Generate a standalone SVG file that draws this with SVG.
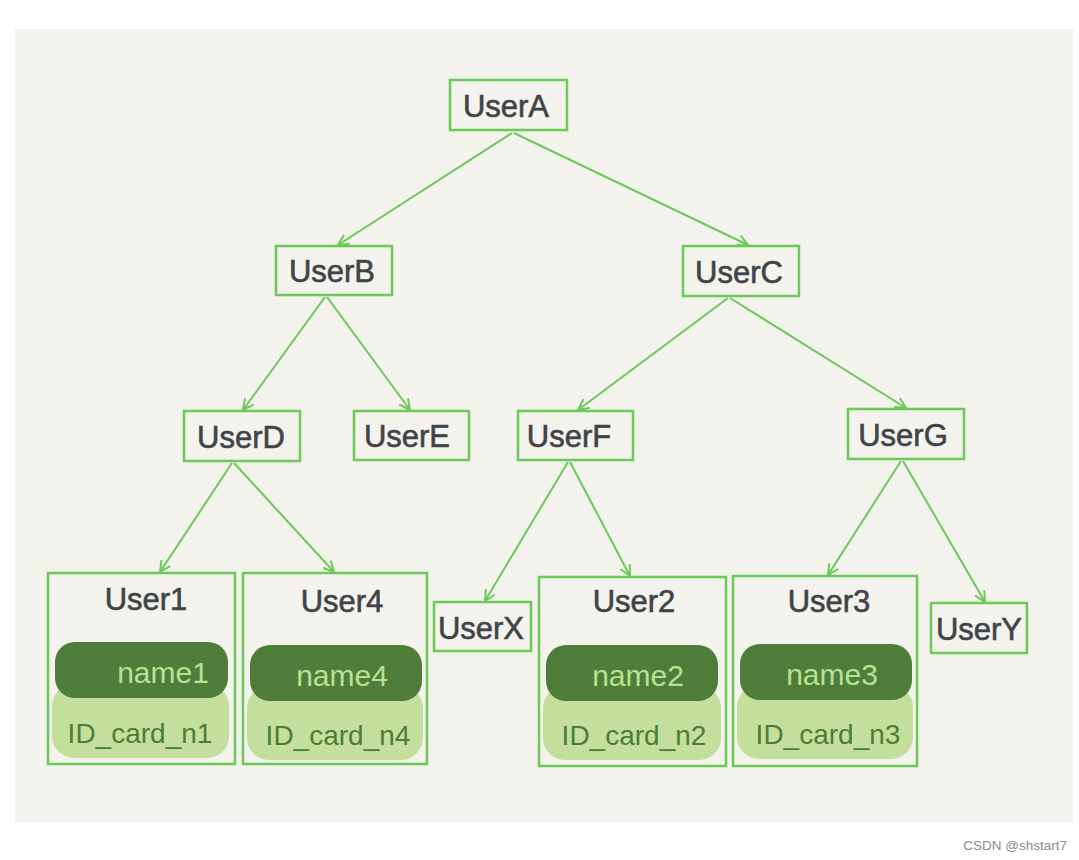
<svg xmlns="http://www.w3.org/2000/svg" width="1079" height="860" viewBox="0 0 1079 860">
<defs>
<marker id="arr" viewBox="0 0 12 12" refX="11" refY="6" markerWidth="12" markerHeight="12" markerUnits="userSpaceOnUse" orient="auto">
<path d="M1,1 L11,6 L1,11" fill="none" stroke="#6cc95a" stroke-width="2" stroke-linecap="round" stroke-linejoin="round"/>
</marker>
<style>
.box{fill:none;stroke:#6cc95a;stroke-width:2.5}
.lbl{font-family:"Liberation Sans","DejaVu Sans",sans-serif;font-size:31px;fill:#3f4447;text-anchor:middle;stroke:#3f4447;stroke-width:0.6}
.dark{fill:#4f7e3b}
.light{fill:#c4de9c}
.nm{font-family:"Liberation Sans","DejaVu Sans",sans-serif;font-size:30px;fill:#b9e190;text-anchor:middle}
.id{font-family:"Liberation Sans","DejaVu Sans",sans-serif;font-size:28px;fill:#4c7d37;text-anchor:middle}
.edge{fill:none;stroke:#6cc95a;stroke-width:2;marker-end:url(#arr)}
</style>
</defs>
<rect x="0" y="0" width="1079" height="860" fill="#ffffff"/>
<rect x="15" y="29" width="1058" height="793" fill="#f3f2ed"/>
<g id="connectors">
<line class="edge" x1="512" y1="133" x2="338" y2="245"/>
<line class="edge" x1="514" y1="133" x2="748" y2="245"/>
<line class="edge" x1="325" y1="297" x2="243" y2="410"/>
<line class="edge" x1="327" y1="297" x2="410" y2="410"/>
<line class="edge" x1="728" y1="298" x2="578" y2="410"/>
<line class="edge" x1="730" y1="298" x2="906" y2="408"/>
<line class="edge" x1="232" y1="463" x2="160" y2="572"/>
<line class="edge" x1="234" y1="463" x2="334" y2="572"/>
<line class="edge" x1="568" y1="462" x2="485" y2="601"/>
<line class="edge" x1="570" y1="462" x2="630" y2="576"/>
<line class="edge" x1="901" y1="461" x2="828" y2="575"/>
<line class="edge" x1="903" y1="461" x2="985" y2="602"/>
</g>
<g id="UserA"><rect class="box" x="450" y="80" width="117" height="50"/><text class="lbl" x="506" y="117">UserA</text></g>
<g id="UserB"><rect class="box" x="276" y="246" width="116" height="49"/><text class="lbl" x="332" y="282">UserB</text></g>
<g id="UserC"><rect class="box" x="683" y="246" width="116" height="50"/><text class="lbl" x="739" y="283">UserC</text></g>
<g id="UserD"><rect class="box" x="184" y="411" width="116" height="50"/><text class="lbl" x="241" y="448">UserD</text></g>
<g id="UserE"><rect class="box" x="354" y="411" width="115" height="49"/><text class="lbl" x="407" y="447">UserE</text></g>
<g id="UserF"><rect class="box" x="518" y="411" width="115" height="49"/><text class="lbl" x="569" y="447">UserF</text></g>
<g id="UserG"><rect class="box" x="848" y="409" width="116" height="50"/><text class="lbl" x="903" y="446">UserG</text></g>
<g id="User1"><rect class="box" x="48" y="573" width="187" height="191"/><text class="lbl" x="146" y="610">User1</text>
<rect class="light" x="52" y="684" width="177" height="74" rx="22"/><rect class="dark" x="55" y="642" width="173" height="56" rx="20"/>
<text class="nm" x="163" y="683">name1</text><text class="id" x="140" y="743">ID_card_n1</text></g>
<g id="User4"><rect class="box" x="243" y="573" width="184" height="191"/><text class="lbl" x="342" y="612">User4</text>
<rect class="light" x="247" y="686" width="176" height="74" rx="22"/><rect class="dark" x="250" y="645" width="172" height="56" rx="20"/>
<text class="nm" x="342" y="686">name4</text><text class="id" x="338" y="745">ID_card_n4</text></g>
<g id="UserX"><rect class="box" x="434" y="602" width="97" height="49"/><text class="lbl" x="481" y="639">UserX</text></g>
<g id="User2"><rect class="box" x="539" y="577" width="187" height="189"/><text class="lbl" x="634" y="612">User2</text>
<rect class="light" x="543" y="686" width="178" height="74" rx="22"/><rect class="dark" x="546" y="645" width="172" height="56" rx="20"/>
<text class="nm" x="638" y="686">name2</text><text class="id" x="634" y="745">ID_card_n2</text></g>
<g id="User3"><rect class="box" x="733" y="576" width="184" height="190"/><text class="lbl" x="829" y="612">User3</text>
<rect class="light" x="737" y="685" width="176" height="74" rx="22"/><rect class="dark" x="740" y="644" width="172" height="56" rx="20"/>
<text class="nm" x="832" y="685">name3</text><text class="id" x="828" y="744">ID_card_n3</text></g>
<g id="UserY"><rect class="box" x="931" y="603" width="96" height="50"/><text class="lbl" x="979" y="640">UserY</text></g>
<text x="1067" y="850" font-family="Liberation Sans,Arial,sans-serif" font-size="13.5" fill="#8a8a8a" text-anchor="end">CSDN @shstart7</text>
</svg>
